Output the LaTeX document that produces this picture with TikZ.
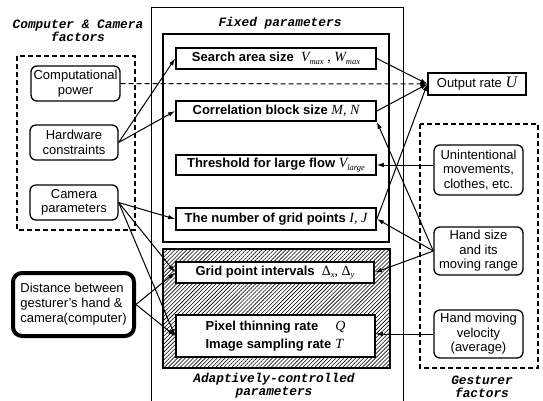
\documentclass[tikz,border=0pt]{standalone}
\usepackage{fontspec}
\setmainfont{Liberation Sans}
\newfontfamily\tmsfont{Liberation Serif}
\newfontfamily\courfont{Liberation Mono}
\usetikzlibrary{arrows.meta,patterns.meta}
\newcommand\ivar[1]{{\tmsfont\mdseries\itshape\fontsize{14}{15}\selectfont #1}}
\newcommand\isub[1]{\raisebox{-0.35ex}{\tmsfont\mdseries\itshape\fontsize{8.5}{9}\selectfont #1}}
\newcommand\iup[1]{{\tmsfont\mdseries\fontsize{14}{15}\selectfont #1}}
\tikzset{
  parambox/.style={draw, line width=1.8pt, fill=white, inner sep=0pt,
    font=\bfseries\fontsize{13}{15}\selectfont, minimum width=200pt, minimum height=20pt},
  factor/.style={draw, line width=1.3pt, rounded corners=6pt, fill=white, align=center,
    inner sep=0pt, font=\fontsize{13}{14.5}\selectfont, minimum width=89pt},
  lbl/.style={font=\courfont\bfseries\itshape\fontsize{12.8}{13}\selectfont, align=center, inner sep=0pt},
  conn/.style={line width=1pt, -{Latex[length=7pt,width=4.5pt]}},
  thinconn/.style={line width=0.6pt, -{Latex[length=7pt,width=4.5pt]}},
  grp/.style={line width=1.4pt, dash pattern=on 5pt off 3pt},
}
\begin{document}
\begin{tikzpicture}[x=1pt,y=-1pt]
\useasboundingbox (0,0) rectangle (543,401);
% frames
\draw[line width=0.6pt] (151,401) |- (403,7) -- (403,401);
\draw[line width=2.2pt] (163,34) rectangle (389,242);
\draw[line width=2.2pt, pattern={Lines[angle=45,distance=2.8pt,line width=0.6pt]}] (163,249) rectangle (390,368);
\draw[grp] (17,56) rectangle (135,230);
\draw[grp] (420,124) rectangle (538,368);
% labels
\node[lbl] (lcc) at (78,31) {Computer \& Camera\\factors};
\node[lbl] (lfix) at (280,23) {Fixed parameters};
\node[lbl] (lada) at (274,386) {Adaptively-controlled\\parameters};
\node[lbl] (lges) at (482,387) {Gesturer\\factors};
% parameter boxes
\node[parambox, minimum height=21pt] (search) at (276,58.5) {Search area size\ \ \ivar{V}\isub{max}\ivar{ , W}\isub{max}};
\node[parambox] (corr) at (276,111) {Correlation block size \ivar{M, N}};
\node[parambox] (thresh) at (276,165) {Threshold for large flow \ivar{V}\isub{large}};
\node[parambox, minimum height=22pt] (grid) at (276,219) {The number of grid points \ivar{I, J}};
\node[parambox, minimum width=198pt, minimum height=21pt] (interval) at (275,272.5) {Grid point intervals\ \ \iup{Δ}\isub{x}\iup{, Δ}\isub{y}};
\node[parambox, minimum width=199pt, minimum height=42pt] (pixel) at (275.5,336) {\begin{tabular}{@{}l@{\hspace{4pt}}l@{}}Pixel thinning rate & \ivar{Q}\\[3pt] Image sampling rate & \ivar{T}\end{tabular}};
% factor nodes
\node[factor, minimum height=35pt] (comp) at (75.5,83.5) {Computational\\power};
\node[factor, minimum width=88pt, minimum height=35pt] (hard) at (74,142.5) {Hardware\\constraints};
\node[factor, minimum width=88pt, minimum height=35pt] (cam) at (74,202.5) {Camera\\parameters};
\node[draw, line width=4pt, rounded corners=9pt, fill=white, align=left, inner sep=0pt,
  font=\fontsize{13}{15}\selectfont, minimum width=121pt, minimum height=63pt] (dist) at (73.5,304.5)
  {Distance between\\gesturer's hand \&\\camera(computer)};
\node[draw, line width=1.3pt, fill=white, inner sep=0pt, minimum width=98pt, minimum height=22pt,
  font=\fontsize{13}{14}\selectfont] (out) at (477,84) {Output rate \ivar{\fontsize{16}{16}\selectfont U}};
\node[factor, minimum height=50pt] (unint) at (478.5,170) {Unintentional\\movements,\\clothes, etc.};
\node[factor, minimum height=48pt] (hand) at (478.5,251) {Hand size\\and its\\moving range};
\node[factor, minimum height=48pt] (vel) at (478.5,334) {Hand moving\\velocity\\(average)};
% connectors
\draw[conn, dash pattern=on 5pt off 3pt] (comp.east) -- (out.west);
\draw[conn] (hard.east) -- (search.west);
\draw[conn] (hard.east) -- (corr.west);
\draw[conn] (cam.east) -- (grid.west);
\draw[conn] (cam.east) -- (interval.west);
\draw[conn] (cam.east) -- (pixel.west);
\draw[conn] (dist.east) -- (interval.west);
\draw[conn] (dist.east) -- (pixel.west);
\draw[conn] (search.east) -- (out.west);
\draw[conn] (corr.east) -- (out.west);
\draw[conn] (grid.east) -- (out.west);
\draw[thinconn] (unint.west |- thresh.east) -- (thresh.east);
\draw[conn] (hand.west) -- (corr.south east);
\draw[conn] (hand.west) -- (grid.east);
\draw[conn] (hand.west) -- (interval.east);
\draw[thinconn] (vel.west) -- (vel.west -| pixel.east);
\end{tikzpicture}
\end{document}
